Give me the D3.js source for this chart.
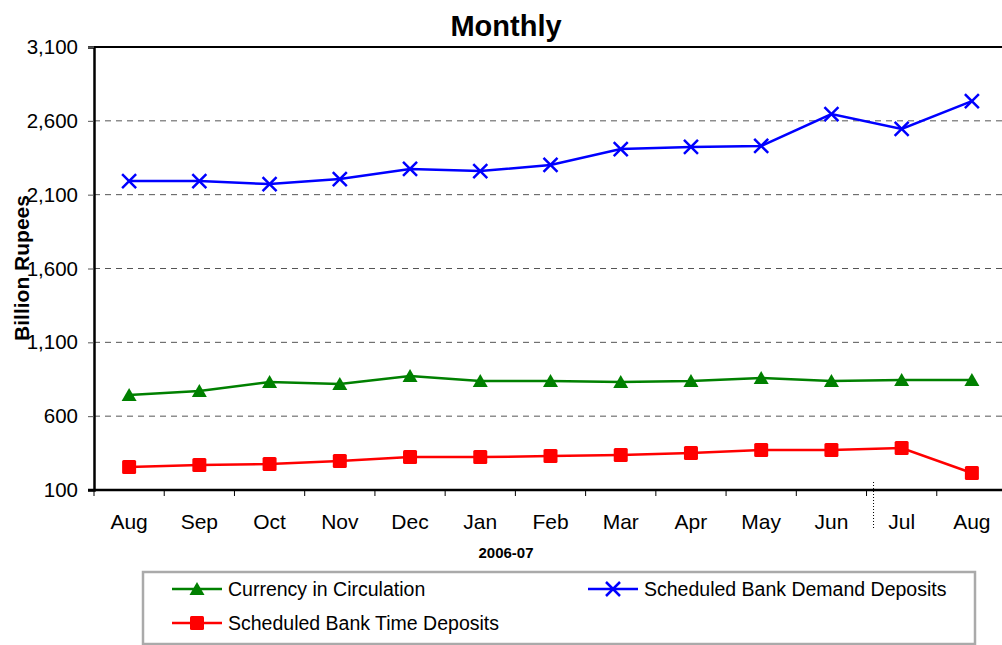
<!DOCTYPE html>
<html>
<head>
<meta charset="utf-8">
<script src="https://cdn.jsdelivr.net/npm/d3@7"></script>
<style>
  body { margin: 0; background: #fff; }
  svg { font-family: "Liberation Sans", Arial, sans-serif; }
</style>
</head>
<body>
<svg></svg>
<script>
// monthly series, billion rupees, 2006-07
const months = ["Aug", "Sep", "Oct", "Nov", "Dec", "Jan", "Feb", "Mar", "Apr", "May", "Jun", "Jul", "Aug"]
const currency = [743, 770, 831, 818, 872, 838, 838, 831, 838, 858, 838, 845, 845]
const demand = [2192, 2192, 2172, 2206, 2274, 2260, 2301, 2409, 2423, 2430, 2646, 2545, 2734]
const time = [256, 269, 276, 296, 323, 323, 330, 337, 351, 371, 371, 384, 215]
const yTicks = [100, 600, 1100, 1600, 2100, 2600, 3100]

const series = [
    {name: "Currency in Circulation", values: currency, color: "#008000", marker: "triangle"},
    {name: "Scheduled Bank Demand Deposits", values: demand, color: "#0000ff", marker: "cross"},
    {name: "Scheduled Bank Time Deposits", values: time, color: "#ff0000", marker: "square"}
]

const svg = d3.select("svg")
    .attr("width", 1002)
    .attr("height", 645)

const plotLeft = 94, plotRight = 1007, plotTop = 47, plotBottom = 490

const x = d3.scaleBand()
    .domain(d3.range(months.length))
    .range([plotLeft, plotRight])

const y = d3.scaleLinear()
    .domain([100, 3100])
    .range([plotBottom, plotTop])

// grid lines
svg.selectAll("line.grid")
    .data(yTicks.slice(1, -1))
    .enter()
    .append("line")
    .attr("class", "grid")
    .attr("x1", plotLeft)
    .attr("x2", 1002)
    .attr("y1", d => y(d))
    .attr("y2", d => y(d))
    .attr("stroke", "#555")
    .attr("stroke-width", 1)
    .attr("stroke-dasharray", "6,5")

// top border
svg.append("line")
    .attr("x1", plotLeft).attr("x2", 1002)
    .attr("y1", plotTop).attr("y2", plotTop)
    .attr("stroke", "#000").attr("stroke-width", 2)

// y axis
const yAxis = svg.append("g")
    .attr("transform", `translate(${plotLeft},0)`)
    .call(d3.axisLeft(y).tickValues(yTicks).tickSize(6).tickPadding(10).tickFormat(d3.format(",")))
yAxis.select(".domain").attr("stroke-width", 2.5)
yAxis.selectAll(".tick line").attr("stroke", "#555")
yAxis.selectAll("text").attr("font-size", 20.5).attr("fill", "#000").attr("font-family", "Liberation Sans, Arial, sans-serif")

// x axis: ticks between bands
const xAxis = svg.append("g")
    .attr("transform", `translate(0,${plotBottom})`)
xAxis.append("line")
    .attr("x1", plotLeft - 6).attr("x2", 1002)
    .attr("stroke", "#000").attr("stroke-width", 2.5)
xAxis.selectAll("line.tk")
    .data(d3.range(months.length))
    .enter()
    .append("line")
    .attr("class", "tk")
    .attr("x1", d => x(d)).attr("x2", d => x(d))
    .attr("y1", 0).attr("y2", 6)
    .attr("stroke", "#000")
xAxis.selectAll("text")
    .data(months)
    .enter()
    .append("text")
    .attr("x", (d, i) => x(i) + x.bandwidth() / 2)
    .attr("y", 39)
    .attr("text-anchor", "middle")
    .attr("font-size", 21)
    .text(d => d)

// dotted separator between Jun and Jul
svg.append("line")
    .attr("x1", x(11) + 7).attr("x2", x(11) + 7)
    .attr("y1", 482).attr("y2", 530)
    .attr("stroke", "#000")
    .attr("stroke-dasharray", "1,2")

// markers
const drawMarker = function(g, type, color) {
    if (type === "triangle") {
        g.append("path").attr("d", "M0,-7L7.5,6L-7.5,6Z").attr("fill", color)
    } else if (type === "square") {
        g.append("rect").attr("x", -7).attr("y", -7).attr("width", 14).attr("height", 14)
            .attr("rx", 1.5).attr("fill", color)
    } else {
        g.append("path").attr("d", "M-7,-7L7,7M-7,7L7,-7")
            .attr("stroke", color).attr("stroke-width", 2.5).attr("fill", "none")
    }
}

const line = d3.line()
    .x((d, i) => x(i) + x.bandwidth() / 2)
    .y(d => y(d))

series.forEach(s => {
    svg.append("path")
        .datum(s.values)
        .attr("d", line)
        .attr("fill", "none")
        .attr("stroke", s.color)
        .attr("stroke-width", 2.5)

    svg.selectAll(null)
        .data(s.values)
        .enter()
        .append("g")
        .attr("transform", (d, i) => `translate(${x(i) + x.bandwidth() / 2},${y(d)})`)
        .each(function() { drawMarker(d3.select(this), s.marker, s.color) })
})

// titles
svg.append("text")
    .attr("x", 506).attr("y", 36)
    .attr("text-anchor", "middle")
    .attr("font-size", 29).attr("font-weight", "bold")
    .text("Monthly")

svg.append("text")
    .attr("transform", "translate(29,268) rotate(-90)")
    .attr("text-anchor", "middle")
    .attr("font-size", 21).attr("font-weight", "bold")
    .text("Billion Rupees")

svg.append("text")
    .attr("x", 506).attr("y", 558)
    .attr("text-anchor", "middle")
    .attr("font-size", 15).attr("font-weight", "bold")
    .text("2006-07")

// legend
svg.append("rect")
    .attr("x", 143).attr("y", 572)
    .attr("width", 832).attr("height", 72)
    .attr("fill", "#fff")
    .attr("stroke", "#aaa").attr("stroke-width", 2.5)

const legendPos = [[172, 589], [588, 589], [172, 623]]
series.forEach((s, i) => {
    const [lx, ly] = legendPos[i]
    const g = svg.append("g").attr("transform", `translate(${lx},${ly})`)
    g.append("line").attr("x1", 0).attr("x2", 50)
        .attr("stroke", s.color).attr("stroke-width", 2.5)
    const m = g.append("g").attr("transform", "translate(25,0)")
    drawMarker(m, s.marker, s.color)
    g.append("text")
        .attr("x", 56).attr("y", 7)
        .attr("font-size", 19.5)
        .text(s.name)
})
</script>
</body>
</html>
